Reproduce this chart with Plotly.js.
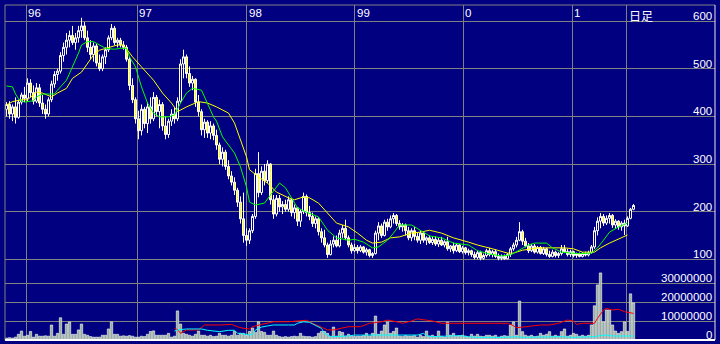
<!DOCTYPE html>
<html><head><meta charset="utf-8">
<script src="https://cdn.plot.ly/plotly-3.0.1.min.js"></script>
<style>html,body{margin:0;padding:0;background:#000080;overflow:hidden}</style>
</head><body><div id="chart" style="width:720px;height:344px"></div>
<script>
// ---- data (bar index = trading period) ----
const priceOpen = [
415,425,405,420,398,430,445,438,470,450,
432,460,428,415,405,435,468,488,495,528,
545,560,570,555,565,580,590,565,545,530,
548,512,500,525,540,565,585,555,560,550,
545,520,465,435,395,370,415,385,420,395,
440,410,425,380,362,390,405,395,432,510,
525,490,470,478,430,410,372,388,365,380,
360,340,310,325,295,275,262,245,220,185,
150,140,160,190,280,240,285,265,300,225,
195,228,210,215,205,225,198,208,180,200,
232,198,190,175,185,158,145,130,110,132,
140,128,155,165,145,130,118,125,118,126,
115,120,108,112,155,170,150,178,168,185,
192,175,168,172,160,145,160,148,140,155,
140,145,135,142,132,140,130,137,122,128,
118,130,116,124,114,118,110,104,114,102,
108,118,110,116,106,102,106,101,110,122,
130,140,158,138,128,118,128,115,125,112,
122,110,106,115,108,112,122,116,110,116,
108,112,106,112,109,114,126,160,180,190,
176,186,192,172,180,168,176,170,186,205];
const priceHigh = [
430,432,425,440,435,450,462,480,478,465,
470,468,445,425,440,475,495,500,535,555,
575,580,590,575,590,607,598,580,560,555,
552,530,530,545,570,594,590,565,565,558,
550,525,480,440,412,425,420,430,440,451,
445,435,430,400,395,415,420,440,520,540,
530,505,485,480,445,415,395,392,390,385,
372,345,335,330,308,285,272,250,232,240,
165,165,195,290,325,295,300,308,302,235,
235,235,222,225,232,228,215,210,205,240,
236,212,198,190,188,165,162,135,140,148,
150,162,172,183,150,135,132,130,130,128,
124,122,115,160,178,175,183,185,192,197,
195,182,176,175,168,165,168,155,160,158,
148,150,147,148,145,147,140,147,130,135,
134,132,128,126,122,120,116,118,118,112,
122,124,120,120,112,110,110,113,126,135,
147,178,162,145,134,132,132,128,128,126,
124,118,120,118,115,130,130,122,120,118,
114,114,115,116,118,130,168,188,197,195,
192,197,195,184,182,180,183,190,208,216];
const priceLow = [
400,395,390,385,395,425,430,432,440,425,
428,420,405,395,400,430,460,475,490,515,
530,545,550,540,555,565,560,535,520,515,
505,495,495,510,535,560,550,545,545,540,
515,455,428,385,352,360,375,365,385,390,
400,375,370,352,355,380,385,390,428,480,
480,462,455,420,400,360,355,355,352,350,
330,300,295,288,268,255,235,210,175,135,
128,132,155,185,230,235,255,260,215,185,
190,200,195,200,200,190,185,170,168,195,
190,182,168,165,150,135,125,103,108,125,
125,125,145,140,125,112,115,112,115,112,
108,104,103,110,140,145,148,160,165,175,
170,162,158,150,140,138,140,135,132,135,
130,132,130,128,126,128,125,118,115,112,
115,113,112,110,108,105,100,100,98,99,
104,106,104,103,98,98,99,100,105,118,
125,138,130,125,113,115,112,112,110,109,
106,103,104,104,103,108,113,106,105,104,
103,104,104,106,106,112,122,150,165,170,
172,175,166,164,162,160,151,168,184,203];
const priceClose = [
425,405,420,398,430,445,438,470,450,432,
460,428,415,405,435,468,488,495,528,545,
560,570,555,565,580,590,565,545,530,548,
512,500,525,540,565,585,555,560,550,545,
520,465,435,395,370,415,385,420,395,440,
410,425,380,362,390,405,395,432,510,525,
490,470,478,430,410,372,388,365,380,360,
340,310,325,295,275,262,245,220,185,150,
140,160,190,280,240,285,265,300,225,195,
228,210,215,205,225,198,208,180,200,232,
198,190,175,185,158,145,130,110,132,140,
128,155,165,145,130,118,125,118,126,115,
120,108,112,155,170,150,178,168,185,192,
175,168,172,160,145,160,148,140,155,140,
145,135,142,132,140,130,137,122,128,118,
130,116,124,114,118,110,104,114,102,108,
118,110,116,106,102,106,101,110,122,130,
140,158,138,128,118,128,115,125,112,122,
110,106,115,108,112,122,116,110,116,108,
112,106,112,109,114,126,160,180,190,176,
186,192,172,180,168,176,170,186,205,213];
// volume in millions of shares
const volumeM = [
1.0,1.2,1.0,1.5,3.0,4.7,2.0,2.5,4.5,1.5,
3.0,2.0,2.0,2.2,2.0,7.9,2.0,3.5,11.7,3.0,
8.4,9.5,3.0,3.0,5.3,8.4,3.0,2.5,1.8,1.5,
1.5,1.5,2.5,2.5,5.8,9.5,3.0,3.0,2.0,2.2,
2.0,2.3,2.0,1.5,1.5,2.0,1.8,3.0,4.5,4.8,
2.5,2.5,2.5,2.5,3.5,1.5,2.0,15.3,8.4,3.5,
3.0,2.5,2.0,3.0,4.7,2.5,2.5,2.0,2.5,1.8,
2.0,3.5,2.5,2.5,2.0,2.5,4.5,2.5,3.5,3.5,
2.5,4.5,6.3,4.0,9.6,4.5,4.0,2.5,2.5,4.7,
2.5,1.8,1.5,1.8,1.5,1.8,2.0,1.8,3.5,2.0,
1.8,1.8,1.5,1.8,3.5,4.5,4.5,3.5,2.0,6.8,
2.0,4.5,4.0,2.0,3.0,2.0,1.8,2.0,2.0,2.3,
3.5,2.0,3.5,12.6,3.0,4.7,7.9,9.4,3.5,4.5,
6.3,2.0,1.8,2.3,2.0,2.0,2.3,1.5,2.5,1.8,
4.7,2.0,2.5,1.8,4.7,2.0,1.5,9.4,2.5,3.5,
2.0,2.3,2.5,2.0,1.5,3.0,2.0,3.0,2.0,1.8,
2.5,2.5,2.0,2.5,1.5,2.0,2.3,2.0,7.9,9.5,
2.5,20.5,4.4,2.5,2.0,2.5,1.8,2.0,3.5,2.5,
3.0,4.4,2.0,2.5,2.0,4.4,5.8,2.0,2.5,3.5,
3.0,2.0,2.5,2.0,2.5,7.9,18.0,29.0,35.3,9.5,
15.8,15.8,7.9,4.7,3.5,4.4,9.5,4.5,24.3,19.5];
// price moving averages (sampled at bar indices)
const maShortIdx = [0,2,3,4,6,9,10,12,16,17,20,22,24,25,27,29,31,33,36,38,40,41,43,45,47,49,51,54,56,58,60,62,65,67,69,70,72,76,78,80,81,83,86,88,90,91,93,95,97,100,104,107,110,114,116,119,122,124,127,129,131,135,138,141,145,149,154,157,161,165,168,171,174,176,180,182,185,188,191,195,197,199,201,204,206,207];
const maShortVal = [464,462,447,437,430,433,441,447,447,455,476,504,533,550,557,557,550,543,541,543,543,525,504,462,428,407,399,399,403,428,449,459,455,428,399,390,357,323,294,252,220,214,218,235,252,260,250,229,208,199,189,161,145,140,142,136,124,126,140,155,172,172,161,149,145,134,130,118,111,107,109,119,130,134,134,124,115,113,112,113,124,140,157,168,174,176];
const maLongIdx = [0,2,5,7,10,12,15,17,20,22,25,27,29,31,34,37,39,42,45,49,52,55,57,60,64,67,70,74,76,78,80,81,84,87,90,94,96,99,101,104,107,110,114,117,120,122,125,128,131,135,138,141,145,149,154,157,162,167,169,172,177,181,186,189,192,196,198,201,205,207];
const maLongVal = [424,431,435,435,451,449,441,449,459,480,493,512,529,539,545,550,550,525,504,476,449,428,410,420,431,428,420,407,386,350,315,288,273,260,241,229,225,231,229,218,197,176,168,155,140,134,136,145,147,155,157,161,155,145,136,130,122,113,113,119,124,124,124,122,115,115,124,134,145,151];
// volume moving averages (millions)
const volMaRedIdx = [56,57,58,60,64,65,66,71,75,77,79,81,82,85,87,89,94,98,100,102,105,107,109,111,114,118,121,125,127,131,132,135,137,142,145,149,154,158,164,167,169,170,172,175,178,181,184,187,189,190,192,196,197,199,200,202,204,206,207,209];
const volMaRedVal = [6.1,5.5,3.5,5.3,5.3,6.5,7.9,7.9,8.2,7.0,6.1,5.8,7.0,8.2,8.8,9.6,9.6,10.0,10.4,8.8,6.5,5.3,5.3,6.1,7.0,7.0,8.8,9.6,10.5,9.3,8.8,10.0,11.1,10.0,8.8,8.8,8.8,8.8,8.8,8.8,7.5,6.5,6.8,7.4,7.9,7.9,8.8,10.5,10.0,8.2,8.8,8.8,11.4,15.8,16.7,15.8,16.2,14.9,14.5,14.0];
const volMaCyanIdx = [56,57,60,65,67,69,71,74,76,77,78,81,82,83,85,87,89,94,96,97,99,101,103,105,106,108,114,116,118,125,131,137,139,140,142,151,154,156,166,170,172,180,185,189,196,198,200,202,207,209];
const volMaCyanVal = [4.7,5.3,5.8,5.8,5.1,4.7,4.4,5.1,5.1,3.5,3.5,2.6,3.0,5.3,6.8,7.4,7.9,7.9,7.9,8.8,9.6,9.3,7.9,6.1,3.5,1.75,2.1,2.6,2.6,2.6,2.3,2.6,3.5,2.3,1.75,2.3,1.75,1.4,1.4,1.75,1.4,1.75,1.75,1.4,1.75,2.3,2.6,2.1,2.1,2.1];
// axis ticks
const yearTickIdx = [6.6, 43.6, 80.1, 116.0, 152.3, 188.6, 206.7];
const yearLabels = ["96","97","98","99","0","1","日足"];
const priceTicks = [100,200,300,400,500,600];
const volTicks = [0,10000000,20000000,30000000];

// ---- build ----
const idx = priceClose.map((_, i) => i);
const M = 1e6;
const NAVY = '#000080', GRID = '#808080';
const numFont = {family: '"Liberation Sans", Arial, sans-serif', size: 11.5, color: '#ffffff'};
const cjkFont = {family: '"Noto Sans CJK JP", "Noto Sans CJK SC", sans-serif', size: 12, color: '#ffffff'};

const traces = [
  {type: 'bar', x: idx, y: volumeM.map(v => v * M), yaxis: 'y2', width: 0.8,
   marker: {color: '#98b098', line: {color: '#ffffff', width: 0.6}}, hoverinfo: 'skip'},
  {type: 'scatter', mode: 'lines', x: volMaRedIdx, y: volMaRedVal.map(v => v * M), yaxis: 'y2',
   line: {color: '#ff0000', width: 1}, hoverinfo: 'skip'},
  {type: 'scatter', mode: 'lines', x: volMaCyanIdx, y: volMaCyanVal.map(v => v * M), yaxis: 'y2',
   line: {color: '#00ffff', width: 1}, hoverinfo: 'skip'},
  {type: 'candlestick', x: idx, open: priceOpen, high: priceHigh, low: priceLow, close: priceClose,
   increasing: {line: {color: '#ffffff', width: 1}, fillcolor: NAVY},
   decreasing: {line: {color: '#ffffff', width: 1}, fillcolor: '#ffff00'},
   whiskerwidth: 0, hoverinfo: 'skip'},
  {type: 'scatter', mode: 'lines', x: maLongIdx, y: maLongVal,
   line: {color: '#ffff00', width: 1}, hoverinfo: 'skip'},
  {type: 'scatter', mode: 'lines', x: maShortIdx, y: maShortVal,
   line: {color: '#00ff00', width: 1}, hoverinfo: 'skip'}
];

const priceDomainBottom = 70 / 335;
const annotations = [];
priceTicks.forEach(v => annotations.push({xref: 'paper', x: 1, xanchor: 'right', xshift: -1,
  yref: 'y', y: v, yanchor: 'bottom', yshift: -3, text: String(v), showarrow: false, font: numFont}));
volTicks.forEach(v => annotations.push({xref: 'paper', x: 1, xanchor: 'right', xshift: -1,
  yref: 'y2', y: v, yanchor: 'bottom', yshift: -3, text: String(v), showarrow: false, font: numFont}));
yearTickIdx.forEach((t, k) => annotations.push({xref: 'x', x: t, xanchor: 'left', xshift: 0,
  yref: 'paper', y: 1, yanchor: 'top', yshift: 0, text: yearLabels[k], showarrow: false,
  font: /[0-9]/.test(yearLabels[k]) ? numFont : cjkFont}));

const layout = {
  width: 720, height: 344,
  margin: {l: 5, r: 5, t: 5, b: 4, pad: 0},
  paper_bgcolor: NAVY, plot_bgcolor: NAVY,
  showlegend: false,
  barmode: 'overlay',
  boxgap: 1/3, boxgroupgap: 0,
  xaxis: {range: [-0.5, 236.1667], tickmode: 'array', tickvals: yearTickIdx, showticklabels: false,
          ticks: '', showgrid: true, gridcolor: GRID, gridwidth: 1, zeroline: false, showline: false,
          rangeslider: {visible: false}, fixedrange: true},
  yaxis: {domain: [priceDomainBottom, 1], range: [77.5, 633.9], tickmode: 'array', tickvals: priceTicks,
          showticklabels: false, ticks: '', showgrid: true, gridcolor: GRID, gridwidth: 1,
          zeroline: false, showline: false, fixedrange: true},
  yaxis2: {domain: [0, priceDomainBottom], range: [0, 36.84e6], tickmode: 'array', tickvals: volTicks.slice(1),
          showticklabels: false, ticks: '', showgrid: true, gridcolor: GRID, gridwidth: 1,
          zeroline: false, showline: false, fixedrange: true},
  annotations: annotations,
  shapes: [
    {type: 'line', xref: 'paper', yref: 'paper', x0: 0, x1: 0, y0: 0, y1: 1, line: {color: GRID, width: 1}},
    {type: 'line', xref: 'paper', yref: 'paper', x0: 0, x1: 1, y0: 1, y1: 1, line: {color: GRID, width: 1}},
    {type: 'line', xref: 'paper', yref: 'paper', x0: 1, x1: 1, y0: 0, y1: 1, line: {color: '#e8e8e8', width: 1}},
    {type: 'line', xref: 'paper', yref: 'paper', x0: 0, x1: 1, y0: 0, y1: 0, line: {color: '#ffffff', width: 2}}
  ]
};

Plotly.newPlot('chart', traces, layout, {staticPlot: true, displayModeBar: false});
</script>
</body></html>
